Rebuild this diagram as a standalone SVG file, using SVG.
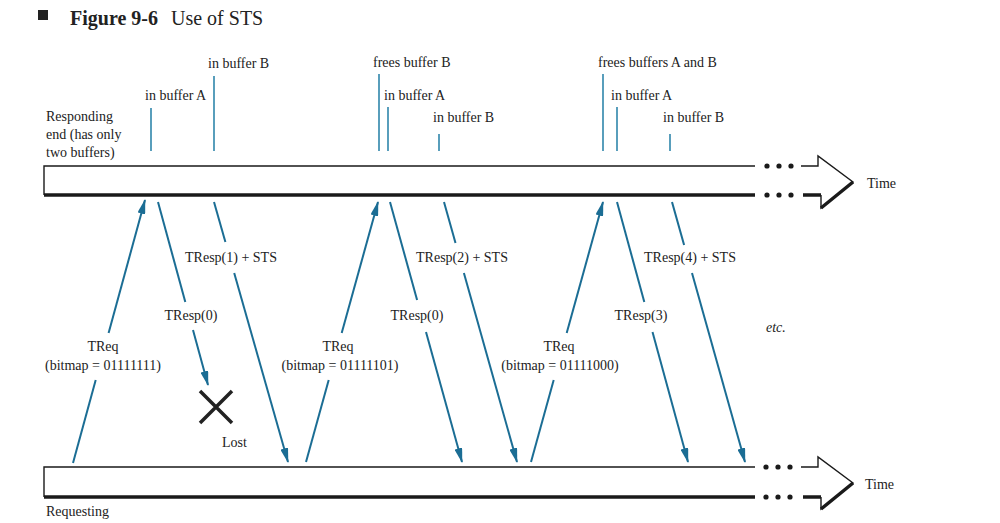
<svg xmlns="http://www.w3.org/2000/svg" width="1000" height="523" viewBox="0 0 1000 523">
<style>
text{font-family:"Liberation Serif","Times New Roman",serif;font-size:14px;fill:#222}
.mid{text-anchor:middle}
.tick{stroke:#2f86ab;stroke-width:1.6;fill:none}
.msg{stroke:#1b6d94;stroke-width:2;fill:none}
.bar{stroke:#1a1a1a;fill:none;stroke-width:1.4}
.thick{stroke:#1a1a1a;fill:none;stroke-width:3.5}
</style>
<defs>
<marker id="ah" viewBox="0 0 15 8" refX="14" refY="4" markerWidth="15" markerHeight="8" markerUnits="userSpaceOnUse" orient="auto">
<path d="M0,0 L15,4 L0,8 Z" fill="#1b6d94"/>
</marker>
<g id="dots"><circle cx="0" cy="0" r="2.6" fill="#1a1a1a"/><circle cx="12" cy="0" r="2.6" fill="#1a1a1a"/><circle cx="24" cy="0" r="2.6" fill="#1a1a1a"/></g>
</defs>
<rect width="1000" height="523" fill="#fff"/>
<g id="title">
<rect x="38" y="10" width="10" height="10" fill="#222"/>
<text x="70" y="25" style="font-size:20px;font-weight:bold">Figure 9-6</text>
<text x="171" y="25" style="font-size:20px">Use of STS</text>
</g>
<g id="responding-timeline">
<path class="bar" d="M755,166 H44 V195"/>
<path class="thick" d="M44,195 H755"/>
<use href="#dots" x="767" y="166"/>
<use href="#dots" x="767" y="195"/>
<path class="bar" d="M801,166 H818 V156 L853,182 L821,208 V195"/>
<path class="thick" d="M803,195 H821 M853,182 L821,208"/>
<text x="867" y="188">Time</text>
<text x="46" y="121">Responding</text>
<text x="46" y="139">end (has only</text>
<text x="46" y="157">two buffers)</text>
</g>
<g id="requesting-timeline">
<path class="bar" d="M755,467 H44 V497"/>
<path class="thick" d="M44,497 H755"/>
<use href="#dots" x="766" y="467"/>
<use href="#dots" x="766" y="497"/>
<path class="bar" d="M801,467 H818 V457 L853,483 L821,509 V497"/>
<path class="thick" d="M803,497 H821 M853,483 L821,509"/>
<text x="865" y="489">Time</text>
<text x="46" y="516">Requesting</text>
</g>
<g id="buffer-events">
<line class="tick" x1="151" y1="108" x2="151" y2="151"/>
<text x="145" y="100">in buffer A</text>
<line class="tick" x1="214" y1="76" x2="214" y2="151"/>
<text x="208" y="68">in buffer B</text>
<line class="tick" x1="379" y1="74" x2="379" y2="151"/>
<text x="373" y="67">frees buffer B</text>
<line class="tick" x1="388" y1="107" x2="388" y2="151"/>
<text x="384" y="100">in buffer A</text>
<line class="tick" x1="439" y1="134" x2="439" y2="151"/>
<text x="433" y="122">in buffer B</text>
<line class="tick" x1="603" y1="74" x2="603" y2="151"/>
<text x="598" y="67">frees buffers A and B</text>
<line class="tick" x1="617" y1="107" x2="617" y2="151"/>
<text x="611" y="100">in buffer A</text>
<line class="tick" x1="670" y1="134" x2="670" y2="151"/>
<text x="663" y="122">in buffer B</text>
</g>
<g id="connectors">
<line class="msg" x1="73" y1="463" x2="95.7" y2="380"/>
<line class="msg" x1="108.6" y1="333" x2="145" y2="200" marker-end="url(#ah)"/>
<line class="msg" x1="158" y1="202" x2="185.3" y2="302"/>
<line class="msg" x1="193" y1="330" x2="208" y2="385" marker-end="url(#ah)"/>
<line class="msg" x1="214" y1="202" x2="225.4" y2="242"/>
<line class="msg" x1="234.2" y1="273" x2="288" y2="462" marker-end="url(#ah)"/>
<line class="msg" x1="306" y1="462" x2="328.7" y2="380"/>
<line class="msg" x1="341.7" y1="333" x2="378" y2="202" marker-end="url(#ah)"/>
<line class="msg" x1="390" y1="202" x2="417.1" y2="300"/>
<line class="msg" x1="426" y1="332" x2="462" y2="462" marker-end="url(#ah)"/>
<line class="msg" x1="444" y1="202" x2="455.5" y2="243"/>
<line class="msg" x1="463.9" y1="273" x2="517" y2="462" marker-end="url(#ah)"/>
<line class="msg" x1="531" y1="462" x2="553.7" y2="380"/>
<line class="msg" x1="566.7" y1="333" x2="603" y2="202" marker-end="url(#ah)"/>
<line class="msg" x1="617" y1="202" x2="644.3" y2="302"/>
<line class="msg" x1="652.5" y1="332" x2="688" y2="462" marker-end="url(#ah)"/>
<line class="msg" x1="672" y1="202" x2="684.1" y2="245"/>
<line class="msg" x1="692" y1="273" x2="745" y2="462" marker-end="url(#ah)"/>
</g>
<g id="labels">
<text class="mid" x="103" y="351">TReq</text>
<text class="mid" x="103" y="370">(bitmap = 01111111)</text>
<text class="mid" x="191" y="320">TResp(0)</text>
<text class="mid" x="231" y="262">TResp(1) + STS</text>
<text class="mid" x="338" y="351">TReq</text>
<text class="mid" x="340" y="370">(bitmap = 01111101)</text>
<text class="mid" x="417" y="320">TResp(0)</text>
<text class="mid" x="462" y="262">TResp(2) + STS</text>
<text class="mid" x="559" y="351">TReq</text>
<text class="mid" x="560" y="370">(bitmap = 01111000)</text>
<text class="mid" x="641" y="320">TResp(3)</text>
<text class="mid" x="690" y="262">TResp(4) + STS</text>
<text x="766" y="332" style="font-style:italic">etc.</text>
</g>
<g id="lost">
<path d="M200,391 L232,423 M232,391 L200,423" stroke="#222" stroke-width="3.5" fill="none"/>
<text x="222" y="447">Lost</text>
</g>
</svg>
